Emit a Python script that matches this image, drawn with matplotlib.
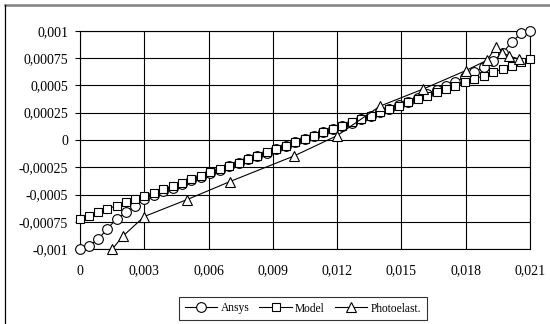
import numpy as np
import matplotlib
matplotlib.use('Agg')
import matplotlib.pyplot as plt
from matplotlib.lines import Line2D
from matplotlib.ticker import FuncFormatter

plt.rcParams['font.family'] = ['Liberation Serif', 'DejaVu Serif']

# shared x positions (Ansys / Model)
x_nodes = [0, 0.00040, 0.00084, 0.00128, 0.00172, 0.00216, 0.00258, 0.00300,
           0.00344, 0.00388, 0.00432, 0.00476, 0.00520, 0.00564, 0.00608, 0.00652,
           0.00696, 0.00740, 0.00784, 0.00828, 0.00872, 0.00916, 0.00960, 0.01004,
           0.01048, 0.01092, 0.01136, 0.01180, 0.01224, 0.01268, 0.01312, 0.01356,
           0.01400, 0.01444, 0.01488, 0.01532, 0.01576, 0.01620, 0.01664, 0.01708,
           0.01752, 0.01796, 0.01840, 0.01884, 0.01928, 0.01972, 0.02016, 0.02060,
           0.02100]

ansys = [-0.00100, -0.00097, -0.00091, -0.00081, -0.00072, -0.00066, -0.00060, -0.00054,
         -0.000500, -0.000465, -0.000435, -0.000400, -0.000368, -0.000335, -0.000303, -0.000271,
         -0.000240, -0.000208, -0.000177, -0.000146, -0.000115, -0.000084, -0.000053, -0.000022,
         0.000008, 0.000038, 0.000069, 0.000099, 0.000130, 0.000160, 0.000191, 0.000222,
         0.000253, 0.000285, 0.000317, 0.000350, 0.000384, 0.000420, 0.000456, 0.000494,
         0.000533, 0.000575, 0.000620, 0.000670, 0.000725, 0.000795, 0.000900, 0.000975,
         0.001000]

model = [-0.000720, -0.000692, -0.000662, -0.000631, -0.000600, -0.000570, -0.000541, -0.000512,
         -0.000481, -0.000450, -0.000420, -0.000389, -0.000359, -0.000328, -0.000297, -0.000267,
         -0.000236, -0.000206, -0.000175, -0.000145, -0.000114, -0.000083, -0.000053, -0.000022,
         0.000008, 0.000039, 0.000070, 0.000100, 0.000131, 0.000161, 0.000192, 0.000222,
         0.000253, 0.000284, 0.000314, 0.000345, 0.000375, 0.000406, 0.000436, 0.000467,
         0.000498, 0.000528, 0.000559, 0.000589, 0.000620, 0.000651, 0.000681, 0.000712,
         0.000740]

photo_x = [0.0015, 0.0020, 0.0030, 0.0050, 0.0070, 0.0100, 0.0120, 0.0140, 0.0160,
           0.0180, 0.0190, 0.0194, 0.0197, 0.0200, 0.0205]
photo_y = [-0.00100, -0.00088, -0.00070, -0.000545, -0.00038, -0.000145, 0.00004, 0.00031,
           0.000465, 0.000635, 0.00073, 0.00085, 0.00080, 0.00077, 0.00074]

labels = ["Ansys", "Model", "Photoelast."]

fig = plt.figure(figsize=(5.5, 3.24), dpi=100)
ax = fig.add_axes([80/550, 1-249.3/324, 450/550, 218.6/324])

style = dict(color='black', lw=0.8, mfc='white', mec='black', mew=0.8, clip_on=False)
ax.plot(x_nodes, ansys, marker='o', ms=7, label=labels[0], zorder=3, **style)
ax.plot(x_nodes, model, marker='s', ms=6.3, label=labels[1], zorder=4, **style)
ax.plot(photo_x, photo_y, marker='^', ms=7, label=labels[2], zorder=5, **style)

ax.set_xlim(0, 0.021)
ax.set_ylim(-0.001, 0.001)
ax.set_xticks(np.arange(0, 0.0211, 0.003))
ax.set_yticks(np.arange(-0.001, 0.00101, 0.00025))

def fmt(v, pos):
    if abs(v) < 1e-12:
        return "0"
    s = ("%.5f" % v).rstrip('0')
    return s.replace('.', ',')

ax.xaxis.set_major_formatter(FuncFormatter(fmt))
ax.yaxis.set_major_formatter(FuncFormatter(fmt))
ax.grid(True, color='black', lw=0.8)
ax.set_axisbelow(True)
for sp in ax.spines.values():
    sp.set_color('black')
    sp.set_linewidth(0.8)
ax.tick_params(axis='y', direction='out', length=3.6, width=0.8, pad=5, labelsize=10)
ax.tick_params(axis='x', length=0, pad=11, labelsize=10)

leg = fig.legend(loc='center', bbox_to_anchor=(303/550, 1-308.5/324), ncol=3,
                 fontsize=8.3, frameon=True, fancybox=False, edgecolor='black',
                 handlelength=2.8, handletextpad=0.3, columnspacing=0.85,
                 borderpad=0.5, borderaxespad=0)
leg.get_frame().set_linewidth(0.8)

# outer chart border (cropped)
fig.add_artist(Line2D([5/550, 1], [1-5/324, 1-5/324], transform=fig.transFigure,
                      color='#808080', lw=1.8))
fig.add_artist(Line2D([5/550, 5/550], [0, 1-5/324], transform=fig.transFigure,
                      color='black', lw=0.9))

fig.savefig('out.png', dpi=100)
